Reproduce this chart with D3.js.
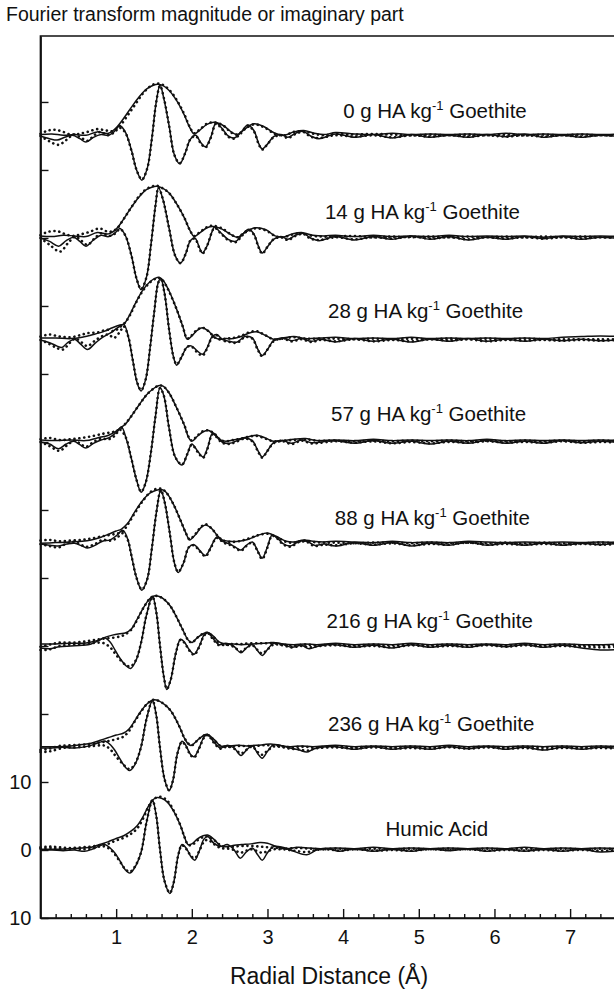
<!DOCTYPE html>
<html>
<head>
<meta charset="utf-8">
<script src="https://cdn.jsdelivr.net/npm/d3@7"></script>
<style>
  body { margin: 0; background: #fff; }
  text { font-family: "Liberation Sans", Arial, sans-serif; fill: #111; }
</style>
</head>
<body>
<svg id="chart" width="614" height="993"></svg>
<script>
// ---- panels (top to bottom) ----
var loadings     = ["0", "14", "28", "57", "88", "216", "236"];
var panelOffsets = [105, 90, 75, 60, 45, 30, 15, 0];
var labelStartR  = [4.0, 3.76, 3.8, 3.84, 3.89, 3.78, 3.8, 4.56];
var labelLift    = [2.7, 2.8, 3.3, 3.1, 2.8, 2.7, 2.5, 2.1];

// ---- axis ticks ----
var xTickValues  = [1, 2, 3, 4, 5, 6, 7];
var xMinorTicks  = [0.2,0.4,0.6,0.8,1.2,1.4,1.6,1.8,2.2,2.4,2.6,2.8,3.2,3.4,3.6,3.8,4.2,4.4,4.6,4.8,5.2,5.4,5.6,5.8,6.2,6.4,6.6,6.8,7.2,7.4];
var yTickValues  = [-10, 0, 10, 20, 30, 40, 50, 60, 70, 80, 90, 100, 110];
var yTickLabels  = { "-10": "10", "0": "0", "10": "10" };

// ---- 0 g HA / kg goethite ----
var magData_0 = [[0,0.2],[0.15,0.3],[0.3,0.1],[0.45,0.2],[0.6,0.1],[0.75,0.6],[0.9,0.4],[1.0,1.2],[1.1,2.6],[1.2,4.2],[1.3,5.7],[1.4,6.9],[1.5,7.5],[1.55,7.6],[1.62,7.4],[1.7,6.7],[1.8,5.2],[1.9,3.1],[1.97,1.3],[2.03,0.3],[2.1,0.8],[2.2,1.7],[2.3,2.0],[2.42,1.5],[2.52,0.6],[2.6,0.2],[2.7,1.0],[2.82,1.8],[2.95,1.4],[3.1,0.4],[3.22,0.1],[3.35,0.6],[3.48,0.8],[3.62,0.4],[3.75,0.2],
  [3.9,0.5],[4.15,0.3],[4.4,0.2],[4.65,0.4],[4.9,0.2],[5.15,0.3],[5.4,0.2],[5.65,0.3],[5.9,0.2],[6.15,0.4],[6.4,0.2],[6.65,0.3],[6.9,0.2],[7.15,0.3],[7.4,0.2],[7.65,0.3]];
var imData_0 = [[0,0],[0.12,-0.4],[0.22,-0.6],[0.32,-0.2],[0.42,0.1],[0.52,-0.4],[0.6,-0.9],[0.7,-0.2],[0.8,0.2],[0.9,0.1],[0.97,0.6],[1.05,1.5],[1.12,0.6],[1.2,-2.0],[1.27,-5.0],[1.34,-6.5],[1.41,-4.8],[1.47,-0.5],[1.53,5.0],[1.58,7.5],[1.63,5.5],[1.7,1.5],[1.77,-2.8],[1.84,-4.1],[1.91,-2.6],[1.98,-0.5],[2.05,0.1],[2.12,-1.0],[2.18,-1.6],[2.25,-0.2],[2.32,1.9],[2.4,1.1],[2.48,0.0],[2.56,-0.3],[2.64,0.4],[2.74,1.6],[2.82,0.8],[2.88,-1.0],[2.93,-1.9],[3.0,-1.2],[3.08,-0.1],[3.18,0.2],[3.27,-0.2],[3.37,0.4],[3.47,0.7],[3.57,0.0],[3.68,-0.4],
  [3.9,0.3],[4.15,-0.2],[4.4,0.2],[4.65,-0.3],[4.9,0.2],[5.15,-0.2],[5.4,0.1],[5.65,-0.2],[5.9,0.2],[6.15,-0.1],[6.4,0.3],[6.65,-0.2],[6.9,0.1],[7.15,-0.2],[7.4,0.1],[7.65,-0.1]];
var magFit_0 = [[0,0.3],[0.1,0.8],[0.2,0.9],[0.3,0.6],[0.4,0.2],[0.5,0.3],[0.62,0.6],[0.75,1.0],[0.87,0.8],[0.95,0.7],[1.05,1.5],[1.15,3.0],[1.25,4.6],[1.35,6.2],[1.45,7.3],[1.53,7.7],[1.6,7.6],[1.7,6.8],[1.8,5.3],[1.9,3.2],[1.97,1.4],[2.03,0.4],[2.1,0.9],[2.2,1.8],[2.3,2.0],[2.42,1.5],[2.52,0.5],[2.6,0.2],[2.7,1.0],[2.82,1.7],[2.95,1.3],[3.1,0.3],[3.22,0.1],[3.35,0.6],[3.48,0.7],[3.62,0.3],[3.75,0.1],
  [3.9,0.3],[4.15,0.2],[4.4,0.3],[4.65,0.2],[4.9,0.1],[5.15,0.2],[5.4,0.1],[5.65,0.2],[5.9,0.1],[6.15,0.2],[6.4,0.1],[6.65,0.2],[6.9,0.1],[7.15,0.2],[7.4,0.1],[7.65,0.1]];
var imFit_0 = [[0,0],[0.12,-0.8],[0.24,-1.3],[0.34,-0.6],[0.44,0.2],[0.54,-0.3],[0.62,-0.7],[0.72,0.2],[0.8,0.6],[0.88,0.1],[0.96,0.4],[1.05,1.2],[1.12,0.5],[1.2,-2.1],[1.27,-5.0],[1.34,-6.4],[1.41,-4.8],[1.47,-0.6],[1.53,5.0],[1.58,7.4],[1.63,5.6],[1.7,1.5],[1.77,-2.8],[1.84,-4.0],[1.91,-2.6],[1.98,-0.5],[2.05,0.0],[2.12,-1.1],[2.18,-1.7],[2.25,-0.3],[2.32,1.8],[2.4,1.0],[2.48,-0.1],[2.56,-0.4],[2.64,0.3],[2.74,1.5],[2.82,0.7],[2.88,-1.1],[2.93,-2.0],[3.0,-1.2],[3.08,-0.2],[3.18,0.1],[3.27,-0.3],[3.37,0.3],[3.47,0.6],[3.57,-0.1],[3.68,-0.3],
  [3.9,0.1],[4.15,-0.1],[4.4,0.1],[4.65,-0.2],[4.9,0.1],[5.15,-0.1],[5.4,0.1],[5.65,-0.1],[5.9,0.1],[6.15,-0.1],[6.4,0.1],[6.65,-0.1],[6.9,0.1],[7.15,-0.1],[7.4,0.1],[7.65,0.0]];

// ---- 14 g ----
var magData_14 = [[0,0.3],[0.15,0.2],[0.3,0.4],[0.45,0.3],[0.6,0.2],[0.75,0.8],[0.9,0.6],[1.0,1.3],[1.1,2.8],[1.2,4.5],[1.3,6.0],[1.4,7.1],[1.48,7.5],[1.53,7.6],[1.6,7.4],[1.7,6.6],[1.8,5.0],[1.9,3.0],[1.98,1.0],[2.03,0.2],[2.1,0.7],[2.2,1.5],[2.28,1.7],[2.4,1.3],[2.52,0.5],[2.6,0.1],[2.7,0.8],[2.84,1.5],[2.98,1.2],[3.1,0.3],[3.2,0.1],[3.33,0.6],[3.45,0.8],[3.6,0.4],[3.75,0.3],
  [3.9,0.4],[4.15,0.2],[4.4,0.4],[4.65,0.2],[4.9,0.3],[5.15,0.2],[5.4,0.4],[5.65,0.2],[5.9,0.3],[6.15,0.2],[6.4,0.3],[6.65,0.1],[6.9,0.3],[7.15,0.2],[7.4,0.3],[7.65,0.2]];
var imData_14 = [[0,0],[0.12,-0.5],[0.24,-1.2],[0.34,-0.4],[0.44,0.1],[0.52,-0.5],[0.6,-1.2],[0.7,-0.3],[0.8,0.4],[0.9,0.2],[0.98,0.7],[1.05,1.4],[1.12,0.4],[1.2,-2.5],[1.27,-6.0],[1.33,-7.6],[1.4,-5.8],[1.46,-1.0],[1.52,4.8],[1.56,7.4],[1.62,5.6],[1.7,1.4],[1.78,-2.6],[1.85,-3.7],[1.92,-2.3],[1.98,-0.4],[2.04,0.0],[2.1,-1.4],[2.14,-2.2],[2.2,-1.2],[2.27,1.0],[2.3,1.6],[2.38,0.8],[2.48,-0.2],[2.58,-0.5],[2.66,0.4],[2.75,1.3],[2.82,0.6],[2.88,-1.2],[2.93,-2.2],[3.0,-1.3],[3.08,-0.2],[3.18,0.2],[3.27,-0.2],[3.37,0.4],[3.47,0.7],[3.57,0.0],[3.68,-0.4],
  [3.9,0.2],[4.15,-0.3],[4.4,0.2],[4.65,-0.2],[4.9,0.3],[5.15,-0.2],[5.4,0.2],[5.65,-0.3],[5.9,0.1],[6.15,-0.2],[6.4,0.2],[6.65,-0.1],[6.9,0.2],[7.15,-0.2],[7.4,0.1],[7.65,-0.1]];
var magFit_14 = [[0,0.4],[0.1,0.9],[0.22,1.0],[0.32,0.6],[0.42,0.3],[0.52,0.5],[0.65,0.9],[0.78,1.4],[0.9,0.9],[1.0,1.3],[1.1,2.8],[1.2,4.5],[1.3,6.1],[1.4,7.2],[1.48,7.6],[1.53,7.7],[1.6,7.4],[1.7,6.6],[1.8,5.0],[1.9,3.0],[1.98,1.0],[2.03,0.3],[2.1,0.8],[2.2,1.6],[2.28,1.8],[2.4,1.4],[2.52,0.5],[2.6,0.1],[2.7,0.8],[2.84,1.4],[2.98,1.1],[3.1,0.3],[3.2,0.1],[3.33,0.5],[3.45,0.7],[3.6,0.3],[3.75,0.2],
  [3.9,0.2],[4.15,0.3],[4.4,0.1],[4.65,0.2],[4.9,0.1],[5.15,0.2],[5.4,0.1],[5.65,0.2],[5.9,0.1],[6.15,0.2],[6.4,0.1],[6.65,0.2],[6.9,0.1],[7.15,0.2],[7.4,0.1],[7.65,0.1]];
var imFit_14 = [[0,0],[0.12,-1.0],[0.26,-2.0],[0.36,-0.8],[0.46,0.2],[0.54,-0.4],[0.62,-1.0],[0.72,0.0],[0.8,0.7],[0.9,0.3],[0.98,0.6],[1.05,1.3],[1.12,0.4],[1.2,-2.5],[1.27,-6.0],[1.33,-7.5],[1.4,-5.8],[1.46,-1.0],[1.52,4.8],[1.56,7.4],[1.62,5.6],[1.7,1.4],[1.78,-2.6],[1.85,-3.7],[1.92,-2.3],[1.98,-0.4],[2.04,-0.1],[2.1,-1.5],[2.14,-2.3],[2.2,-1.2],[2.27,1.0],[2.3,1.5],[2.38,0.7],[2.48,-0.3],[2.58,-0.6],[2.66,0.3],[2.75,1.2],[2.82,0.5],[2.88,-1.3],[2.93,-2.3],[3.0,-1.3],[3.08,-0.2],[3.18,0.1],[3.27,-0.3],[3.37,0.3],[3.47,0.6],[3.57,-0.1],[3.68,-0.3],
  [3.9,0.1],[4.15,-0.2],[4.4,0.1],[4.65,-0.1],[4.9,0.2],[5.15,-0.1],[5.4,0.1],[5.65,-0.2],[5.9,0.1],[6.15,-0.1],[6.4,0.1],[6.65,-0.1],[6.9,0.1],[7.15,-0.1],[7.4,0.1],[7.65,0.0]];

// ---- 28 g ----
var magData_28 = [[0,0.3],[0.2,0.3],[0.4,0.2],[0.55,0.4],[0.7,0.8],[0.85,1.3],[0.95,1.8],[1.05,2.2],[1.1,2.3],[1.17,3.5],[1.25,5.3],[1.35,7.3],[1.45,8.6],[1.52,9.1],[1.57,9.2],[1.62,8.8],[1.7,7.2],[1.8,4.5],[1.88,2.0],[1.94,0.1],[2.0,0.6],[2.07,1.4],[2.14,1.8],[2.22,1.3],[2.3,0.4],[2.36,0.1],[2.45,0.2],[2.55,0.2],[2.65,0.5],[2.75,1.0],[2.86,1.2],[2.97,0.7],[3.08,0.1],[3.2,0.3],[3.35,0.5],[3.5,0.2],[3.7,0.3],
  [3.9,0.4],[4.15,0.2],[4.4,0.3],[4.65,0.2],[4.9,0.4],[5.15,0.2],[5.4,0.3],[5.65,0.2],[5.9,0.3],[6.15,0.2],[6.4,0.3],[6.65,0.2],[6.9,0.4],[7.15,0.5],[7.4,0.6],[7.65,0.5]];
var imData_28 = [[0,0],[0.12,-0.4],[0.22,-0.9],[0.28,-1.1],[0.36,-0.4],[0.45,0.1],[0.53,-0.6],[0.62,-1.4],[0.72,-0.5],[0.82,0.4],[0.92,1.0],[1.02,1.8],[1.1,2.3],[1.16,0.5],[1.22,-3.0],[1.28,-6.4],[1.33,-7.5],[1.39,-5.8],[1.45,-1.0],[1.5,3.8],[1.56,8.6],[1.59,9.0],[1.64,6.8],[1.7,1.5],[1.76,-2.6],[1.8,-3.7],[1.86,-2.6],[1.94,-1.0],[2.0,-0.9],[2.07,-1.6],[2.14,-2.1],[2.2,-1.2],[2.27,0.5],[2.33,0.8],[2.4,0.1],[2.5,-0.2],[2.6,-0.3],[2.7,0.5],[2.8,0.3],[2.87,-1.3],[2.93,-2.3],[3.0,-1.4],[3.08,-0.1],[3.2,0.3],[3.32,-0.1],[3.45,0.2],[3.58,-0.2],[3.7,0.1],
  [3.9,-0.3],[4.15,0.2],[4.4,-0.2],[4.65,0.1],[4.9,-0.3],[5.15,0.1],[5.4,-0.2],[5.65,0.2],[5.9,-0.2],[6.15,0.1],[6.4,-0.2],[6.65,0.1],[6.9,-0.1],[7.15,0.1],[7.4,-0.1],[7.65,0.0]];
var magFit_28 = [[0,0.5],[0.12,0.8],[0.25,0.5],[0.4,0.4],[0.52,0.7],[0.62,1.0],[0.75,1.1],[0.88,1.5],[0.97,1.3],[1.05,1.9],[1.12,2.6],[1.18,3.6],[1.25,5.2],[1.35,7.2],[1.45,8.5],[1.52,9.0],[1.57,9.1],[1.62,8.7],[1.7,7.1],[1.8,4.5],[1.88,2.0],[1.94,0.2],[2.0,0.7],[2.07,1.5],[2.14,1.8],[2.22,1.3],[2.3,0.4],[2.36,0.1],[2.45,0.2],[2.55,0.3],[2.65,0.6],[2.75,1.1],[2.86,1.3],[2.97,0.7],[3.08,0.1],[3.2,0.2],[3.35,0.4],[3.5,0.2],[3.7,0.2],
  [3.9,0.2],[4.15,0.1],[4.4,0.2],[4.65,0.1],[4.9,0.2],[5.15,0.1],[5.4,0.2],[5.65,0.1],[5.9,0.2],[6.15,0.1],[6.4,0.2],[6.65,0.1],[6.9,0.1],[7.15,0.1],[7.4,0.1],[7.65,0.1]];
var imFit_28 = [[0,0],[0.12,-0.6],[0.22,-1.2],[0.3,-1.4],[0.38,-0.5],[0.46,0.2],[0.55,-0.4],[0.62,-0.9],[0.72,-0.1],[0.82,0.6],[0.9,0.8],[0.97,0.3],[1.05,1.2],[1.1,2.0],[1.16,0.5],[1.22,-3.0],[1.28,-6.3],[1.33,-7.4],[1.39,-5.8],[1.45,-1.0],[1.5,3.8],[1.56,8.5],[1.59,8.9],[1.64,6.8],[1.7,1.5],[1.76,-2.6],[1.8,-3.6],[1.86,-2.6],[1.94,-1.0],[2.0,-1.0],[2.07,-1.8],[2.14,-2.3],[2.2,-1.3],[2.27,0.4],[2.33,0.7],[2.4,0.0],[2.5,-0.3],[2.6,-0.4],[2.7,0.4],[2.8,0.2],[2.87,-1.4],[2.93,-2.4],[3.0,-1.4],[3.08,-0.2],[3.2,0.2],[3.32,-0.2],[3.45,0.1],[3.58,-0.3],[3.7,0.0],
  [3.9,-0.2],[4.15,0.1],[4.4,-0.2],[4.65,0.0],[4.9,-0.2],[5.15,0.1],[5.4,-0.1],[5.65,0.1],[5.9,-0.2],[6.15,0.0],[6.4,-0.1],[6.65,0.0],[6.9,-0.1],[7.15,0.0],[7.4,-0.1],[7.65,0.0]];

// ---- 57 g ----
var magData_57 = [[0,0.3],[0.2,0.2],[0.4,0.3],[0.6,0.2],[0.75,0.6],[0.9,1.0],[1.0,1.6],[1.07,2.2],[1.12,2.6],[1.2,3.8],[1.3,5.4],[1.4,6.9],[1.5,7.9],[1.57,8.3],[1.62,8.2],[1.7,7.2],[1.8,5.0],[1.9,2.5],[1.96,0.6],[2.0,0.1],[2.07,0.8],[2.15,1.5],[2.22,1.7],[2.3,1.2],[2.38,0.3],[2.45,0.1],[2.55,0.3],[2.65,0.5],[2.76,0.8],[2.86,1.0],[2.97,0.6],[3.08,0.1],[3.2,0.2],[3.35,0.4],[3.5,0.5],[3.65,0.2],
  [3.9,0.3],[4.15,0.2],[4.4,0.4],[4.65,0.2],[4.9,0.3],[5.15,0.2],[5.4,0.3],[5.65,0.2],[5.9,0.4],[6.15,0.2],[6.4,0.3],[6.65,0.2],[6.9,0.3],[7.15,0.2],[7.4,0.3],[7.65,0.2]];
var imData_57 = [[0,0],[0.12,-0.3],[0.24,-1.0],[0.34,-0.3],[0.44,0.1],[0.52,-0.4],[0.6,-0.9],[0.7,-0.2],[0.8,0.3],[0.9,0.6],[1.0,1.4],[1.07,2.2],[1.13,0.6],[1.2,-2.4],[1.27,-5.6],[1.33,-7.4],[1.39,-6.0],[1.46,-1.5],[1.52,3.8],[1.58,8.0],[1.63,6.8],[1.7,2.0],[1.78,-2.2],[1.87,-3.4],[1.94,-1.8],[2.0,-0.3],[2.08,-1.4],[2.15,-2.2],[2.21,-0.8],[2.27,1.2],[2.32,0.9],[2.4,0.0],[2.5,-0.2],[2.6,0.2],[2.7,0.6],[2.8,0.2],[2.87,-1.2],[2.93,-2.2],[3.0,-1.3],[3.08,-0.1],[3.2,0.2],[3.32,-0.2],[3.45,0.3],[3.58,-0.1],
  [3.9,0.2],[4.15,-0.2],[4.4,0.2],[4.65,-0.2],[4.9,0.1],[5.15,-0.3],[5.4,0.1],[5.65,-0.2],[5.9,0.2],[6.15,-0.2],[6.4,0.1],[6.65,-0.2],[6.9,0.2],[7.15,-0.1],[7.4,0.1],[7.65,-0.1]];
var magFit_57 = [[0,0.4],[0.12,0.6],[0.25,0.3],[0.4,0.4],[0.55,0.6],[0.7,0.9],[0.82,1.2],[0.92,1.4],[1.0,1.6],[1.07,2.1],[1.13,2.8],[1.2,3.8],[1.3,5.4],[1.4,6.9],[1.5,7.9],[1.57,8.3],[1.62,8.2],[1.7,7.2],[1.8,5.0],[1.9,2.5],[1.96,0.7],[2.0,0.2],[2.07,0.9],[2.15,1.6],[2.22,1.7],[2.3,1.2],[2.38,0.3],[2.45,0.1],[2.55,0.3],[2.65,0.5],[2.76,0.8],[2.86,0.9],[2.97,0.5],[3.08,0.1],[3.2,0.2],[3.35,0.3],[3.5,0.4],[3.65,0.2],
  [3.9,0.2],[4.15,0.1],[4.4,0.2],[4.65,0.1],[4.9,0.2],[5.15,0.1],[5.4,0.2],[5.65,0.1],[5.9,0.2],[6.15,0.1],[6.4,0.2],[6.65,0.1],[6.9,0.2],[7.15,0.1],[7.4,0.2],[7.65,0.1]];
var imFit_57 = [[0,0],[0.12,-0.6],[0.25,-1.3],[0.35,-0.5],[0.45,0.2],[0.53,-0.3],[0.6,-0.7],[0.7,0.0],[0.8,0.5],[0.9,0.4],[0.98,0.9],[1.05,1.8],[1.13,0.6],[1.2,-2.4],[1.27,-5.6],[1.33,-7.3],[1.39,-6.0],[1.46,-1.5],[1.52,3.8],[1.58,7.9],[1.63,6.8],[1.7,2.0],[1.78,-2.2],[1.87,-3.3],[1.94,-1.8],[2.0,-0.4],[2.08,-1.5],[2.15,-2.3],[2.21,-0.9],[2.27,1.1],[2.32,0.8],[2.4,-0.1],[2.5,-0.3],[2.6,0.1],[2.7,0.5],[2.8,0.1],[2.87,-1.3],[2.93,-2.3],[3.0,-1.3],[3.08,-0.2],[3.2,0.1],[3.32,-0.3],[3.45,0.2],[3.58,-0.2],
  [3.9,0.1],[4.15,-0.1],[4.4,0.1],[4.65,-0.2],[4.9,0.0],[5.15,-0.2],[5.4,0.0],[5.65,-0.1],[5.9,0.1],[6.15,-0.1],[6.4,0.0],[6.65,-0.1],[6.9,0.1],[7.15,-0.1],[7.4,0.0],[7.65,-0.1]];

// ---- 88 g ----
var magData_88 = [[0,0.1],[0.2,0.2],[0.4,0.3],[0.55,0.4],[0.67,0.6],[0.8,1.0],[0.89,1.4],[1.0,1.9],[1.07,2.2],[1.15,3.0],[1.25,4.8],[1.35,6.4],[1.45,7.5],[1.53,7.9],[1.6,8.0],[1.66,7.6],[1.75,6.0],[1.85,3.5],[1.93,1.4],[1.97,0.6],[2.05,1.4],[2.12,2.4],[2.18,2.8],[2.26,2.3],[2.34,1.2],[2.4,0.6],[2.5,0.4],[2.62,0.4],[2.75,0.7],[2.88,1.3],[3.0,1.6],[3.12,1.1],[3.25,0.4],[3.35,0.3],[3.48,0.6],[3.6,0.4],[3.75,0.3],
  [3.9,0.4],[4.15,0.3],[4.4,0.2],[4.65,0.4],[4.9,0.2],[5.15,0.3],[5.4,0.2],[5.65,0.4],[5.9,0.3],[6.15,0.2],[6.4,0.3],[6.65,0.2],[6.9,0.3],[7.15,0.2],[7.4,0.3],[7.65,0.2]];
var imData_88 = [[0,0],[0.12,-0.2],[0.23,-0.3],[0.35,0.0],[0.45,0.1],[0.55,-0.3],[0.62,-0.6],[0.72,-0.2],[0.82,0.4],[0.92,0.6],[1.0,1.2],[1.09,2.0],[1.15,0.8],[1.2,-1.6],[1.27,-5.0],[1.34,-6.8],[1.41,-5.2],[1.47,-0.8],[1.53,4.5],[1.59,7.9],[1.64,6.2],[1.71,1.5],[1.77,-2.8],[1.82,-4.2],[1.89,-2.8],[1.96,-0.5],[2.03,-0.1],[2.1,-0.9],[2.18,-1.7],[2.25,-0.5],[2.33,1.0],[2.42,0.3],[2.5,0.0],[2.58,-0.5],[2.65,-0.9],[2.72,-0.2],[2.8,0.3],[2.87,-1.0],[2.93,-2.1],[3.0,-0.4],[3.06,1.3],[3.12,1.0],[3.2,0.1],[3.3,-0.3],[3.42,0.4],[3.52,0.4],[3.62,-0.2],[3.75,0.0],
  [3.9,-0.3],[4.15,0.2],[4.4,-0.2],[4.65,0.2],[4.9,-0.3],[5.15,0.1],[5.4,-0.2],[5.65,0.3],[5.9,-0.2],[6.15,0.1],[6.4,-0.2],[6.65,0.1],[6.9,-0.2],[7.15,0.1],[7.4,-0.1],[7.65,0.1]];
var magFit_88 = [[0,0.5],[0.12,0.6],[0.25,0.4],[0.4,0.5],[0.55,0.6],[0.67,0.8],[0.8,1.1],[0.9,1.3],[1.0,1.5],[1.08,1.8],[1.15,2.8],[1.25,4.6],[1.35,6.3],[1.45,7.6],[1.53,8.1],[1.6,8.1],[1.66,7.6],[1.75,6.0],[1.85,3.5],[1.93,1.4],[1.97,0.7],[2.05,1.5],[2.12,2.5],[2.18,2.9],[2.26,2.3],[2.34,1.2],[2.4,0.6],[2.5,0.3],[2.62,0.4],[2.75,0.8],[2.88,1.3],[3.0,1.5],[3.12,1.0],[3.25,0.3],[3.35,0.2],[3.48,0.5],[3.6,0.3],[3.75,0.2],
  [3.9,0.2],[4.15,0.1],[4.4,0.2],[4.65,0.2],[4.9,0.1],[5.15,0.2],[5.4,0.1],[5.65,0.2],[5.9,0.1],[6.15,0.2],[6.4,0.1],[6.65,0.2],[6.9,0.1],[7.15,0.1],[7.4,0.2],[7.65,0.1]];
var imFit_88 = [[0,0],[0.12,-0.3],[0.24,-0.5],[0.35,0.1],[0.45,0.3],[0.55,-0.2],[0.62,-0.4],[0.72,0.0],[0.82,0.6],[0.92,0.5],[1.0,0.8],[1.09,1.6],[1.15,0.7],[1.2,-1.6],[1.27,-5.0],[1.34,-6.7],[1.41,-5.2],[1.47,-0.8],[1.53,4.5],[1.59,7.9],[1.64,6.2],[1.71,1.5],[1.77,-2.8],[1.82,-4.1],[1.89,-2.8],[1.96,-0.5],[2.03,-0.2],[2.1,-1.0],[2.18,-1.8],[2.25,-0.6],[2.33,0.9],[2.42,0.2],[2.5,-0.1],[2.58,-0.6],[2.65,-1.0],[2.72,-0.3],[2.8,0.2],[2.87,-1.1],[2.93,-2.2],[3.0,-0.5],[3.06,1.2],[3.12,0.9],[3.2,0.0],[3.3,-0.4],[3.42,0.3],[3.52,0.3],[3.62,-0.3],[3.75,-0.1],
  [3.9,-0.2],[4.15,0.1],[4.4,-0.1],[4.65,0.1],[4.9,-0.2],[5.15,0.0],[5.4,-0.1],[5.65,0.2],[5.9,-0.1],[6.15,0.0],[6.4,-0.1],[6.65,0.0],[6.9,-0.1],[7.15,0.0],[7.4,-0.1],[7.65,0.0]];

// ---- 216 g ----
var magData_216 = [[0,0.3],[0.2,0.3],[0.4,0.4],[0.55,0.4],[0.67,0.6],[0.78,0.9],[0.86,1.3],[0.95,1.6],[1.05,1.8],[1.12,1.9],[1.2,2.5],[1.28,4.0],[1.36,5.6],[1.44,6.9],[1.5,7.35],[1.56,7.3],[1.63,6.9],[1.72,5.8],[1.8,4.2],[1.88,2.4],[1.95,0.9],[2.0,0.5],[2.07,1.2],[2.15,1.8],[2.21,2.0],[2.28,1.5],[2.36,0.6],[2.45,0.3],[2.55,0.3],[2.65,0.2],[2.8,0.3],[2.95,0.4],[3.08,0.5],[3.2,0.3],[3.35,0.2],[3.5,0.3],[3.65,0.2],
  [3.9,0.4],[4.15,0.2],[4.4,0.3],[4.65,0.2],[4.9,0.4],[5.15,0.2],[5.4,0.3],[5.65,0.2],[5.9,0.3],[6.15,0.2],[6.4,0.4],[6.65,0.2],[6.9,0.3],[7.15,0.2],[7.4,0.2],[7.65,0.3]];
var imData_216 = [[0,-0.3],[0.12,-0.4],[0.25,-0.1],[0.4,0.0],[0.55,0.1],[0.67,0.3],[0.77,0.8],[0.84,1.2],[0.92,0.6],[0.98,-0.5],[1.05,-1.8],[1.13,-2.9],[1.19,-3.3],[1.26,-2.2],[1.33,0.5],[1.4,4.5],[1.48,7.3],[1.53,5.0],[1.58,0.0],[1.63,-4.5],[1.67,-6.4],[1.72,-5.0],[1.79,-1.0],[1.85,1.0],[1.9,0.6],[1.97,-0.6],[2.03,-1.2],[2.1,0.0],[2.16,1.6],[2.21,2.0],[2.28,1.1],[2.36,0.2],[2.45,0.4],[2.55,0.0],[2.65,-1.0],[2.73,-0.2],[2.8,0.2],[2.87,-0.7],[2.93,-1.4],[3.0,-0.5],[3.08,0.4],[3.2,0.3],[3.32,-0.2],[3.45,0.1],[3.55,-0.4],[3.68,0.0],
  [3.9,0.2],[4.15,-0.2],[4.4,0.1],[4.65,-0.3],[4.9,0.2],[5.15,-0.2],[5.4,0.1],[5.65,-0.2],[5.9,0.2],[6.15,-0.1],[6.4,0.2],[6.65,-0.2],[6.9,0.1],[7.15,-0.3],[7.4,-0.6],[7.65,-0.5]];
var magFit_216 = [[0,-0.1],[0.12,0.2],[0.25,0.5],[0.4,0.5],[0.55,0.6],[0.67,0.8],[0.78,1.0],[0.86,1.1],[0.95,1.2],[1.05,1.4],[1.12,1.7],[1.2,2.4],[1.28,3.9],[1.36,5.6],[1.44,6.9],[1.5,7.35],[1.56,7.3],[1.63,6.9],[1.72,5.8],[1.8,4.2],[1.88,2.4],[1.95,0.9],[2.0,0.5],[2.07,1.2],[2.15,1.8],[2.21,1.9],[2.28,1.4],[2.36,0.5],[2.45,0.2],[2.55,0.3],[2.65,0.3],[2.8,0.4],[2.95,0.4],[3.08,0.4],[3.2,0.2],[3.35,0.1],[3.5,0.2],[3.65,0.1],
  [3.9,0.2],[4.15,0.1],[4.4,0.2],[4.65,0.1],[4.9,0.2],[5.15,0.1],[5.4,0.2],[5.65,0.1],[5.9,0.2],[6.15,0.1],[6.4,0.2],[6.65,0.1],[6.9,0.2],[7.15,0.1],[7.4,0.1],[7.65,0.1]];
var imFit_216 = [[0,-0.6],[0.12,-0.5],[0.25,0.0],[0.4,0.2],[0.55,0.3],[0.67,0.4],[0.77,0.5],[0.84,0.4],[0.92,-0.2],[0.98,-1.0],[1.05,-2.0],[1.13,-2.8],[1.19,-3.0],[1.26,-2.1],[1.33,0.5],[1.4,4.5],[1.48,7.2],[1.53,5.0],[1.58,0.0],[1.63,-4.5],[1.67,-6.3],[1.72,-5.0],[1.79,-1.0],[1.85,0.9],[1.9,0.5],[1.97,-0.7],[2.03,-1.3],[2.1,-0.1],[2.16,1.5],[2.21,1.9],[2.28,1.0],[2.36,0.1],[2.45,0.2],[2.55,-0.1],[2.65,-0.8],[2.73,-0.2],[2.8,0.1],[2.87,-0.6],[2.93,-1.1],[3.0,-0.5],[3.08,0.2],[3.2,0.1],[3.32,-0.2],[3.45,0.0],[3.55,-0.2],[3.68,0.0],
  [3.9,0.1],[4.15,-0.1],[4.4,0.0],[4.65,-0.2],[4.9,0.1],[5.15,-0.1],[5.4,0.0],[5.65,-0.1],[5.9,0.1],[6.15,-0.1],[6.4,0.1],[6.65,-0.1],[6.9,0.0],[7.15,-0.1],[7.4,-0.2],[7.65,-0.1]];

// ---- 236 g ----
var magData_236 = [[0,0.2],[0.2,0.2],[0.4,0.3],[0.55,0.5],[0.67,0.7],[0.78,1.1],[0.89,1.5],[1.0,1.9],[1.1,2.2],[1.17,2.8],[1.24,3.9],[1.32,5.3],[1.4,6.4],[1.47,7.0],[1.5,7.1],[1.57,6.9],[1.65,6.3],[1.72,5.5],[1.78,4.4],[1.85,2.8],[1.9,1.5],[1.96,0.5],[2.0,0.4],[2.08,1.2],[2.15,1.8],[2.21,2.0],[2.3,1.2],[2.38,0.3],[2.48,0.3],[2.6,0.4],[2.72,0.3],[2.85,0.4],[2.95,0.5],[3.04,0.6],[3.15,0.4],[3.3,0.2],[3.45,0.3],[3.6,0.2],
  [3.9,0.4],[4.15,0.2],[4.4,0.3],[4.65,0.2],[4.9,0.3],[5.15,0.2],[5.4,0.4],[5.65,0.2],[5.9,0.3],[6.15,0.2],[6.4,0.3],[6.65,0.2],[6.9,0.3],[7.15,0.2],[7.4,0.3],[7.65,0.2]];
var imData_236 = [[0,0],[0.12,0.0],[0.3,0.1],[0.45,0.0],[0.6,0.2],[0.7,0.5],[0.8,0.9],[0.86,1.0],[0.93,0.4],[0.98,-0.3],[1.05,-1.6],[1.12,-2.8],[1.18,-3.3],[1.25,-2.4],[1.33,0.2],[1.4,4.2],[1.48,7.0],[1.53,4.8],[1.58,0.0],[1.64,-4.6],[1.7,-6.3],[1.75,-4.8],[1.81,-0.8],[1.87,1.0],[1.92,0.4],[1.98,-0.9],[2.03,-1.3],[2.1,0.1],[2.16,1.6],[2.21,2.0],[2.29,0.9],[2.38,0.0],[2.47,0.4],[2.56,0.0],[2.65,-1.1],[2.73,-0.2],[2.8,0.3],[2.87,-0.8],[2.93,-1.5],[3.0,-0.5],[3.08,0.5],[3.2,0.3],[3.3,0.0],[3.42,-0.3],[3.52,-0.6],[3.62,-0.1],
  [3.9,0.2],[4.15,-0.2],[4.4,0.2],[4.65,-0.2],[4.9,0.1],[5.15,-0.2],[5.4,0.2],[5.65,-0.1],[5.9,0.2],[6.15,-0.2],[6.4,0.1],[6.65,-0.3],[6.9,0.1],[7.15,-0.2],[7.4,0.1],[7.65,-0.1]];
var magFit_236 = [[0,-0.3],[0.12,-0.1],[0.25,0.3],[0.4,0.4],[0.55,0.5],[0.67,0.6],[0.78,0.8],[0.89,1.0],[1.0,1.3],[1.1,1.7],[1.17,2.5],[1.24,3.8],[1.32,5.2],[1.4,6.4],[1.47,7.0],[1.5,7.1],[1.57,6.9],[1.65,6.3],[1.72,5.5],[1.78,4.4],[1.85,2.8],[1.9,1.5],[1.96,0.6],[2.0,0.4],[2.08,1.2],[2.15,1.8],[2.21,1.9],[2.3,1.1],[2.38,0.3],[2.48,0.2],[2.6,0.3],[2.72,0.3],[2.85,0.3],[2.95,0.4],[3.04,0.4],[3.15,0.3],[3.3,0.1],[3.45,0.2],[3.6,0.1],
  [3.9,0.2],[4.15,0.1],[4.4,0.2],[4.65,0.1],[4.9,0.2],[5.15,0.1],[5.4,0.2],[5.65,0.1],[5.9,0.2],[6.15,0.1],[6.4,0.2],[6.65,0.1],[6.9,0.2],[7.15,0.1],[7.4,0.2],[7.65,0.1]];
var imFit_236 = [[0,-0.6],[0.12,-0.5],[0.3,0.0],[0.45,0.1],[0.6,0.2],[0.7,0.3],[0.8,0.4],[0.86,0.3],[0.93,-0.3],[0.98,-1.0],[1.05,-1.9],[1.12,-2.7],[1.18,-3.1],[1.25,-2.3],[1.33,0.2],[1.4,4.2],[1.48,7.0],[1.53,4.8],[1.58,0.0],[1.64,-4.6],[1.7,-6.2],[1.75,-4.8],[1.81,-0.8],[1.87,0.9],[1.92,0.3],[1.98,-1.0],[2.03,-1.4],[2.1,0.0],[2.16,1.5],[2.21,1.9],[2.29,0.8],[2.38,-0.1],[2.47,0.2],[2.56,-0.1],[2.65,-0.8],[2.73,-0.2],[2.8,0.2],[2.87,-0.6],[2.93,-1.0],[3.0,-0.4],[3.08,0.2],[3.2,0.1],[3.3,-0.1],[3.42,-0.2],[3.52,-0.4],[3.62,-0.1],
  [3.9,0.1],[4.15,-0.1],[4.4,0.1],[4.65,-0.1],[4.9,0.0],[5.15,-0.1],[5.4,0.1],[5.65,-0.1],[5.9,0.1],[6.15,-0.1],[6.4,0.0],[6.65,-0.2],[6.9,0.0],[7.15,-0.1],[7.4,0.0],[7.65,-0.1]];

// ---- humic acid ----
var magData_HA = [[0,0.1],[0.2,0.1],[0.4,0.2],[0.55,0.3],[0.67,0.4],[0.78,0.8],[0.89,1.2],[1.0,1.7],[1.1,2.1],[1.2,2.8],[1.28,3.6],[1.35,4.8],[1.42,6.3],[1.48,7.3],[1.53,7.7],[1.6,7.6],[1.68,7.0],[1.77,5.5],[1.85,3.6],[1.9,2.0],[1.95,0.8],[2.0,0.9],[2.07,1.6],[2.15,2.1],[2.21,2.2],[2.29,1.6],[2.38,0.6],[2.47,0.5],[2.56,0.7],[2.66,0.8],[2.78,0.9],[2.9,1.1],[3.0,1.0],[3.12,0.5],[3.25,0.2],[3.4,0.4],[3.55,0.3],[3.7,0.2],
  [3.9,0.3],[4.15,0.2],[4.4,0.4],[4.65,0.2],[4.9,0.3],[5.15,0.2],[5.4,0.3],[5.65,0.2],[5.9,0.3],[6.15,0.2],[6.4,0.4],[6.65,0.2],[6.9,0.3],[7.15,0.2],[7.4,0.3],[7.65,0.2]];
var imData_HA = [[0,0],[0.15,0.0],[0.3,-0.1],[0.45,0.0],[0.58,-0.2],[0.68,0.1],[0.78,0.6],[0.85,0.8],[0.92,0.3],[0.98,-0.4],[1.05,-1.6],[1.12,-2.9],[1.18,-3.4],[1.25,-2.5],[1.33,-0.3],[1.4,4.0],[1.48,7.35],[1.53,5.0],[1.58,0.0],[1.64,-4.6],[1.71,-6.4],[1.76,-4.8],[1.82,-0.8],[1.87,0.8],[1.93,0.2],[1.99,-1.0],[2.04,-1.5],[2.1,-0.1],[2.16,1.6],[2.21,2.0],[2.29,1.0],[2.38,0.5],[2.47,0.8],[2.56,0.0],[2.64,-1.2],[2.72,-0.3],[2.8,0.3],[2.87,-0.7],[2.93,-1.5],[3.0,-0.4],[3.08,0.5],[3.2,0.4],[3.35,-0.2],[3.52,-0.7],[3.65,0.0],[3.8,0.2],
  [3.95,-0.2],[4.15,0.2],[4.4,-0.2],[4.65,0.1],[4.9,-0.2],[5.15,0.2],[5.4,-0.1],[5.65,0.2],[5.9,-0.2],[6.15,0.1],[6.4,-0.2],[6.65,0.1],[6.9,-0.2],[7.15,0.1],[7.4,-0.3],[7.65,-0.1]];
var magFit_HA = [[0,0.4],[0.12,0.5],[0.25,0.4],[0.4,0.3],[0.55,0.4],[0.67,0.5],[0.78,0.7],[0.89,0.9],[1.0,1.4],[1.1,1.8],[1.2,2.4],[1.28,3.2],[1.35,4.5],[1.42,6.2],[1.48,7.3],[1.55,7.8],[1.6,7.8],[1.68,7.2],[1.77,5.6],[1.85,3.6],[1.9,2.0],[1.95,0.8],[2.0,0.7],[2.07,1.4],[2.15,1.9],[2.21,2.0],[2.29,1.5],[2.38,0.7],[2.47,0.4],[2.56,0.5],[2.66,0.6],[2.78,0.6],[2.9,0.5],[3.0,0.4],[3.12,0.3],[3.25,0.2],[3.4,0.3],[3.55,0.2],[3.7,0.1],
  [3.9,0.2],[4.15,0.1],[4.4,0.2],[4.65,0.1],[4.9,0.2],[5.15,0.1],[5.4,0.2],[5.65,0.1],[5.9,0.2],[6.15,0.1],[6.4,0.2],[6.65,0.1],[6.9,0.2],[7.15,0.1],[7.4,0.2],[7.65,0.1]];
var imFit_HA = [[0,0.2],[0.15,0.3],[0.3,0.1],[0.45,0.2],[0.58,0.1],[0.68,0.2],[0.78,0.5],[0.85,0.5],[0.92,0.1],[0.98,-0.6],[1.05,-1.7],[1.12,-2.8],[1.18,-3.2],[1.25,-2.4],[1.33,-0.3],[1.4,4.0],[1.48,7.3],[1.53,5.0],[1.58,0.0],[1.64,-4.6],[1.71,-6.3],[1.76,-4.8],[1.82,-0.8],[1.87,0.7],[1.93,0.1],[1.99,-0.9],[2.04,-1.2],[2.1,-0.1],[2.16,1.2],[2.21,1.5],[2.29,0.9],[2.38,0.3],[2.47,0.2],[2.56,0.0],[2.64,-0.4],[2.72,-0.1],[2.8,0.1],[2.87,-0.2],[2.93,-0.4],[3.0,-0.2],[3.08,0.1],[3.2,0.1],[3.35,-0.1],[3.52,-0.3],[3.65,0.0],[3.8,0.1],
  [3.95,-0.1],[4.15,0.1],[4.4,-0.1],[4.65,0.0],[4.9,-0.1],[5.15,0.1],[5.4,0.0],[5.65,0.1],[5.9,-0.1],[6.15,0.0],[6.4,-0.1],[6.65,0.0],[6.9,-0.1],[7.15,0.0],[7.4,-0.1],[7.65,0.0]];

var panels = [
  [magData_0,   imData_0,   magFit_0,   imFit_0],
  [magData_14,  imData_14,  magFit_14,  imFit_14],
  [magData_28,  imData_28,  magFit_28,  imFit_28],
  [magData_57,  imData_57,  magFit_57,  imFit_57],
  [magData_88,  imData_88,  magFit_88,  imFit_88],
  [magData_216, imData_216, magFit_216, imFit_216],
  [magData_236, imData_236, magFit_236, imFit_236],
  [magData_HA,  imData_HA,  magFit_HA,  imFit_HA]
];

var svg = d3.select("#chart");
var x = d3.scaleLinear().domain([0, 7.58]).range([40.5, 614]);
var y = d3.scaleLinear().domain([-10, 119.7]).range([918, 36]);
var ink = "#111";

// frame (runs off the right edge like the cropped original)
svg.append("path")
  .attr("d", "M" + (x(7.58) + 20) + "," + y(119.7) + "H" + x(0) + "V" + y(-10) + "H" + (x(7.58) + 20))
  .attr("fill", "none").attr("stroke", ink).attr("stroke-width", 1.7);

// x axis
var gx = svg.append("g").attr("transform", "translate(0," + y(-10) + ")")
  .call(d3.axisBottom(x).tickValues(xTickValues).tickSizeInner(-9).tickSizeOuter(0).tickPadding(12).tickFormat(d3.format("d")));
var gxm = svg.append("g").attr("transform", "translate(0," + y(-10) + ")")
  .call(d3.axisBottom(x).tickValues(xMinorTicks).tickSizeInner(-4).tickSizeOuter(0).tickFormat(""));
gxm.select(".domain").remove();

// y axis
var gy = svg.append("g").attr("transform", "translate(" + x(0) + ",0)")
  .call(d3.axisLeft(y).tickValues(yTickValues).tickSizeInner(-8).tickSizeOuter(0).tickPadding(9)
    .tickFormat(function(d) { return yTickLabels[d] || ""; }));

[gx, gxm, gy].forEach(function(g) {
  g.selectAll(".domain").attr("stroke", ink).attr("stroke-width", 1.7);
  g.selectAll(".tick line").attr("stroke", ink).attr("stroke-width", 1.4);
  g.selectAll(".tick text").attr("fill", ink).style("font-size", "20px")
    .style("font-family", "'Liberation Sans', Arial, sans-serif");
});

// curves
var line = d3.line()
  .x(function(d) { return x(d[0]); })
  .curve(d3.curveCatmullRom.alpha(0.5));

panels.forEach(function(p, i) {
  var off = panelOffsets[i];
  line.y(function(d) { return y(d[1] + off); });
  var g = svg.append("g");
  [p[0], p[1]].forEach(function(s) {
    g.append("path").attr("d", line(s))
      .attr("fill", "none").attr("stroke", ink).attr("stroke-width", 1.5);
  });
  [p[2], p[3]].forEach(function(s) {
    g.append("path").attr("d", line(s))
      .attr("fill", "none").attr("stroke", ink).attr("stroke-width", 2.6)
      .attr("stroke-linecap", "round").attr("stroke-dasharray", "0.1 4.8");
  });

  // label
  var t = svg.append("text")
    .attr("x", x(labelStartR[i]))
    .attr("y", y(off + labelLift[i]))
    .style("font-size", "20.5px");
  if (i < loadings.length) {
    t.append("tspan").text(loadings[i] + " g HA kg");
    t.append("tspan").attr("dy", -8).style("font-size", "13px").text("-1");
    t.append("tspan").attr("dy", 8).text(" Goethite");
  } else {
    t.text("Humic Acid");
  }
});

// titles
svg.append("text").attr("x", 6).attr("y", 21).style("font-size", "19.5px")
  .text("Fourier transform magnitude or imaginary part");
svg.append("text").attr("x", 329).attr("y", 984).attr("text-anchor", "middle").style("font-size", "23px")
  .text("Radial Distance (Å)");
</script>
</body>
</html>
